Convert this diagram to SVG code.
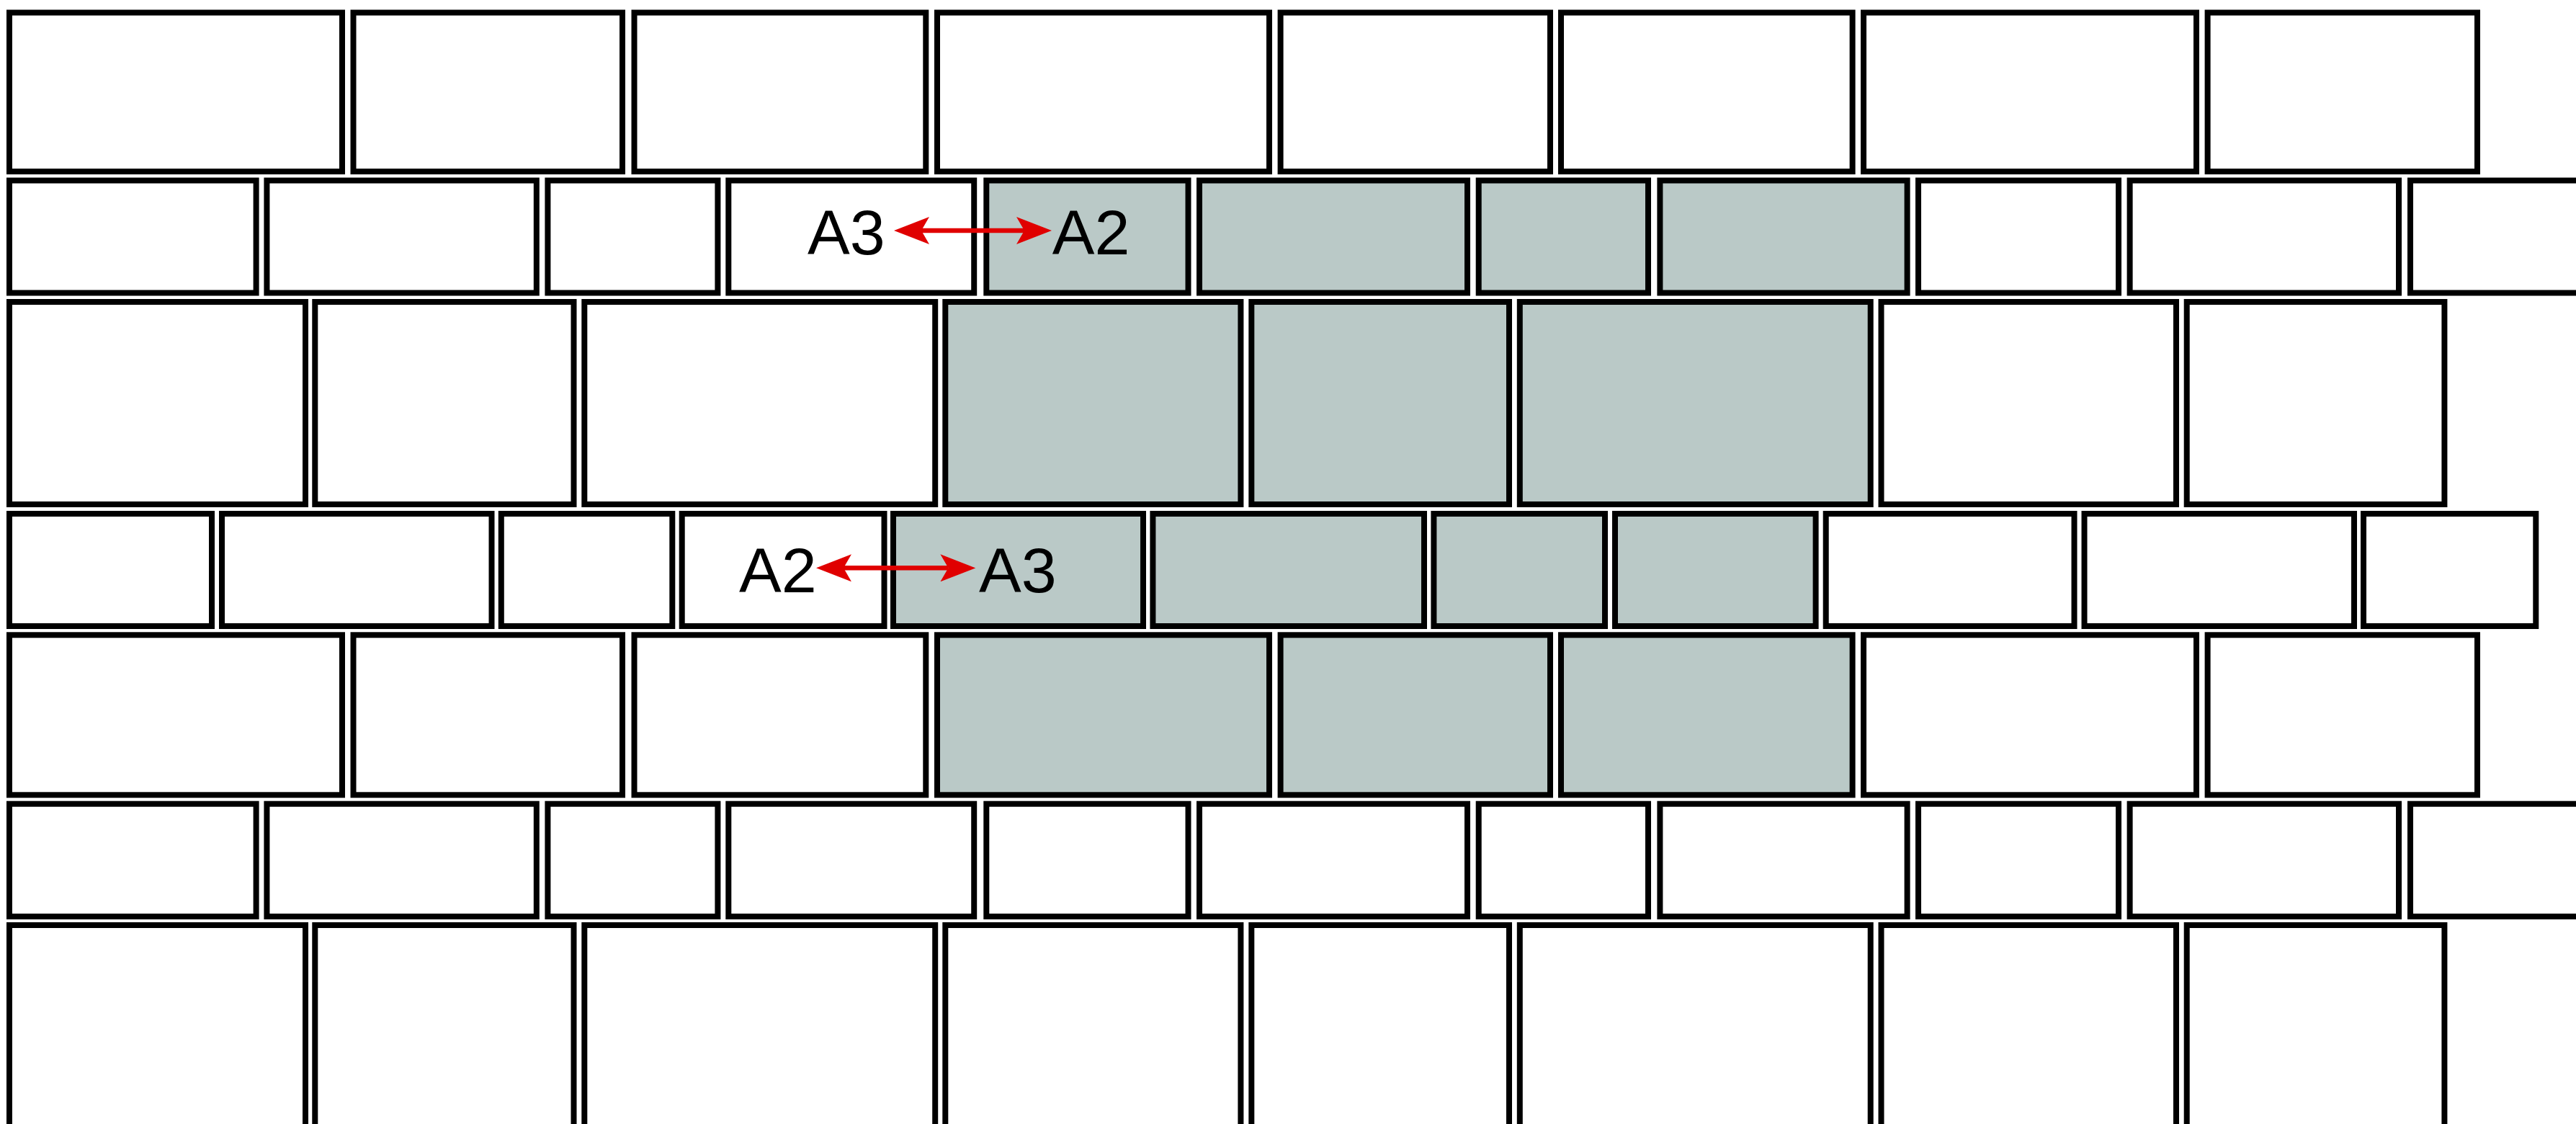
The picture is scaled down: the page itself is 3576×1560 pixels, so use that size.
<svg xmlns="http://www.w3.org/2000/svg" width="3576" height="1560" viewBox="0 0 3576 1560">
<style>
.t{fill:#ffffff;stroke:#000000;stroke-width:8}
.g{fill:#bac9c7;stroke:#000000;stroke-width:8}
.lbl{font-family:"Liberation Sans",Arial,sans-serif;font-size:88px;fill:#000000}
.arr{stroke:#e00000;stroke-width:6.5;fill:none;marker-start:url(#ah);marker-end:url(#ah)}
</style>
<defs>
<marker id="ah" viewBox="0 -19 49 38" refX="11" refY="0" markerWidth="49" markerHeight="38" markerUnits="userSpaceOnUse" orient="auto-start-reverse">
<path d="M0,-19 L49,0 L0,19 L11,0 Z" fill="#e00000"/>
</marker>
</defs>
<rect width="3576" height="1560" fill="#ffffff"/>
<g id="row1">
<rect id="r1t1" class="t" x="13" y="17.5" width="462" height="220.5"/>
<rect id="r1t2" class="t" x="490.5" y="17.5" width="373.5" height="220.5"/>
<rect id="r1t3" class="t" x="880.5" y="17.5" width="404.8" height="220.5"/>
<rect id="r1t4" class="t" x="1301" y="17.5" width="461" height="220.5"/>
<rect id="r1t5" class="t" x="1777.6" y="17.5" width="374.4" height="220.5"/>
<rect id="r1t6" class="t" x="2167" y="17.5" width="404.6" height="220.5"/>
<rect id="r1t7" class="t" x="2587" y="17.5" width="462" height="220.5"/>
<rect id="r1t8" class="t" x="3064.6" y="17.5" width="374.4" height="220.5"/>
</g>
<g id="row2">
<rect id="r2t1" class="t" x="13" y="250.5" width="342.6" height="156"/>
<rect id="r2t2" class="t" x="370.4" y="250.5" width="374.4" height="156"/>
<rect id="r2t3" class="t" x="760.4" y="250.5" width="236" height="156"/>
<g id="r2t4"><rect class="t" x="1011.3" y="250.5" width="340.9" height="156"/><text class="lbl" x="1121" y="352.7">A3</text></g>
<g id="r2t5"><rect class="g" x="1369.3" y="250.5" width="280.2" height="156"/><text class="lbl" x="1460.7" y="352.7">A2</text></g>
<rect id="r2t6" class="g" x="1665" y="250.5" width="372" height="156"/>
<rect id="r2t7" class="g" x="2052.7" y="250.5" width="235.3" height="156"/>
<rect id="r2t8" class="g" x="2304.4" y="250.5" width="343.2" height="156"/>
<rect id="r2t9" class="t" x="2663" y="250.5" width="278" height="156"/>
<rect id="r2t10" class="t" x="2956.6" y="250.5" width="373.4" height="156"/>
<rect id="r2t11" class="t" x="3346" y="250.5" width="300" height="156"/>
</g>
<g id="row3">
<rect id="r3t1" class="t" x="13" y="419" width="411" height="281"/>
<rect id="r3t2" class="t" x="437.3" y="419" width="359.2" height="281"/>
<rect id="r3t3" class="t" x="811.3" y="419" width="486.9" height="281"/>
<rect id="r3t4" class="g" x="1312.3" y="419" width="410.1" height="281"/>
<rect id="r3t5" class="g" x="1737.3" y="419" width="357.7" height="281"/>
<rect id="r3t6" class="g" x="2109.8" y="419" width="486.9" height="281"/>
<rect id="r3t7" class="t" x="2611.5" y="419" width="409.5" height="281"/>
<rect id="r3t8" class="t" x="3035.7" y="419" width="357.7" height="281"/>
</g>
<g id="row4">
<rect id="r4t1" class="t" x="13" y="713" width="281" height="156"/>
<rect id="r4t2" class="t" x="308" y="713" width="374.5" height="156"/>
<rect id="r4t3" class="t" x="695.8" y="713" width="237.5" height="156"/>
<g id="r4t4"><rect class="t" x="946.7" y="713" width="280.8" height="156"/><text class="lbl" x="1026" y="821.7">A2</text></g>
<g id="r4t5"><rect class="g" x="1240" y="713" width="347" height="156"/><text class="lbl" x="1359" y="821.7">A3</text></g>
<rect id="r4t6" class="g" x="1600.4" y="713" width="376.6" height="156"/>
<rect id="r4t7" class="g" x="1990.4" y="713" width="237.6" height="156"/>
<rect id="r4t8" class="g" x="2242" y="713" width="278.6" height="156"/>
<rect id="r4t9" class="t" x="2534.7" y="713" width="344.8" height="156"/>
<rect id="r4t10" class="t" x="2893.5" y="713" width="374.5" height="156"/>
<rect id="r4t11" class="t" x="3281" y="713" width="239.3" height="156"/>
</g>
<g id="row5">
<rect id="r5t1" class="t" x="13" y="881.3" width="462" height="222"/>
<rect id="r5t2" class="t" x="490.5" y="881.3" width="373.5" height="222"/>
<rect id="r5t3" class="t" x="880.5" y="881.3" width="404.8" height="222"/>
<rect id="r5t4" class="g" x="1301" y="881.3" width="461" height="222"/>
<rect id="r5t5" class="g" x="1777.6" y="881.3" width="374.4" height="222"/>
<rect id="r5t6" class="g" x="2167" y="881.3" width="404.6" height="222"/>
<rect id="r5t7" class="t" x="2587" y="881.3" width="462" height="222"/>
<rect id="r5t8" class="t" x="3064.6" y="881.3" width="374.4" height="222"/>
</g>
<g id="row6">
<rect id="r6t1" class="t" x="13" y="1115.7" width="342.6" height="156.3"/>
<rect id="r6t2" class="t" x="370.4" y="1115.7" width="374.4" height="156.3"/>
<rect id="r6t3" class="t" x="760.4" y="1115.7" width="236" height="156.3"/>
<rect id="r6t4" class="t" x="1011.3" y="1115.7" width="340.9" height="156.3"/>
<rect id="r6t5" class="t" x="1369.3" y="1115.7" width="280.2" height="156.3"/>
<rect id="r6t6" class="t" x="1665" y="1115.7" width="372" height="156.3"/>
<rect id="r6t7" class="t" x="2052.7" y="1115.7" width="235.3" height="156.3"/>
<rect id="r6t8" class="t" x="2304.4" y="1115.7" width="343.2" height="156.3"/>
<rect id="r6t9" class="t" x="2663" y="1115.7" width="278" height="156.3"/>
<rect id="r6t10" class="t" x="2956.6" y="1115.7" width="373.4" height="156.3"/>
<rect id="r6t11" class="t" x="3346" y="1115.7" width="300" height="156.3"/>
</g>
<g id="row7">
<rect id="r7t1" class="t" x="13" y="1284" width="411" height="400"/>
<rect id="r7t2" class="t" x="437.3" y="1284" width="359.2" height="400"/>
<rect id="r7t3" class="t" x="811.3" y="1284" width="486.9" height="400"/>
<rect id="r7t4" class="t" x="1312.3" y="1284" width="410.1" height="400"/>
<rect id="r7t5" class="t" x="1737.3" y="1284" width="357.7" height="400"/>
<rect id="r7t6" class="t" x="2109.8" y="1284" width="486.9" height="400"/>
<rect id="r7t7" class="t" x="2611.5" y="1284" width="409.5" height="400"/>
<rect id="r7t8" class="t" x="3035.7" y="1284" width="357.7" height="400"/>
</g>
<g id="connectors">
<line class="arr" x1="1279" y1="320" x2="1422" y2="320"/>
<line class="arr" x1="1171" y1="788.3" x2="1316.4" y2="788.3"/>
</g>
</svg>
